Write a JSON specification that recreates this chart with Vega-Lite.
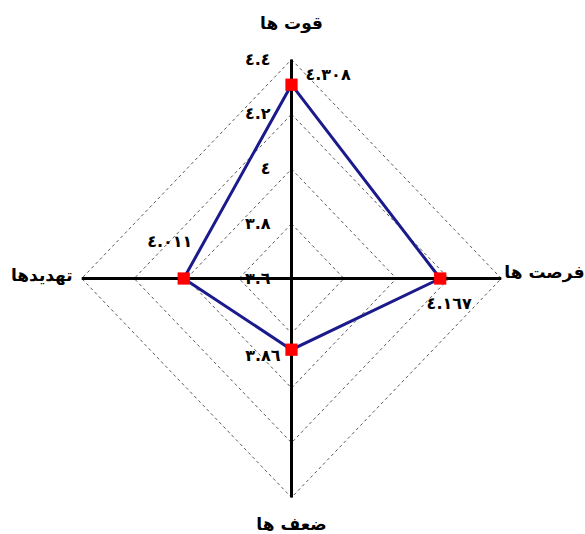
{
  "$schema": "https://vega.github.io/schema/vega-lite/v6.json",
  "width": 585,
  "height": 534,
  "autosize": {"type": "fit", "contains": "padding"},
  "padding": 0,
  "background": "white",
  "config": {"view": {"stroke": null}, "text": {"font": "DejaVu Sans"}},
  "data": {
    "values": [
      {"kind": "series", "axis": "top", "value": 4.308, "ord": 0, "label": "٤.٣٠٨"},
      {"kind": "series", "axis": "right", "value": 4.167, "ord": 1, "label": "٤.١٦٧"},
      {"kind": "series", "axis": "bottom", "value": 3.86, "ord": 2, "label": "٣.٨٦"},
      {"kind": "series", "axis": "left", "value": 4.011, "ord": 3, "label": "٤.٠١١"},
      {"kind": "ring", "level": "3.8", "axis": "top", "value": 3.8, "ord": 0},
      {"kind": "ring", "level": "3.8", "axis": "right", "value": 3.8, "ord": 1},
      {"kind": "ring", "level": "3.8", "axis": "bottom", "value": 3.8, "ord": 2},
      {"kind": "ring", "level": "3.8", "axis": "left", "value": 3.8, "ord": 3},
      {"kind": "ring", "level": "4.0", "axis": "top", "value": 4.0, "ord": 0},
      {"kind": "ring", "level": "4.0", "axis": "right", "value": 4.0, "ord": 1},
      {"kind": "ring", "level": "4.0", "axis": "bottom", "value": 4.0, "ord": 2},
      {"kind": "ring", "level": "4.0", "axis": "left", "value": 4.0, "ord": 3},
      {"kind": "ring", "level": "4.2", "axis": "top", "value": 4.2, "ord": 0},
      {"kind": "ring", "level": "4.2", "axis": "right", "value": 4.2, "ord": 1},
      {"kind": "ring", "level": "4.2", "axis": "bottom", "value": 4.2, "ord": 2},
      {"kind": "ring", "level": "4.2", "axis": "left", "value": 4.2, "ord": 3},
      {"kind": "ring", "level": "4.4", "axis": "top", "value": 4.4, "ord": 0},
      {"kind": "ring", "level": "4.4", "axis": "right", "value": 4.4, "ord": 1},
      {"kind": "ring", "level": "4.4", "axis": "bottom", "value": 4.4, "ord": 2},
      {"kind": "ring", "level": "4.4", "axis": "left", "value": 4.4, "ord": 3},
      {"kind": "spoke", "group": "v", "axis": "top", "value": 4.4, "ord": 0},
      {"kind": "spoke", "group": "v", "axis": "bottom", "value": 4.4, "ord": 1},
      {"kind": "spoke", "group": "h", "axis": "left", "value": 4.4, "ord": 0},
      {"kind": "spoke", "group": "h", "axis": "right", "value": 4.4, "ord": 1},
      {"kind": "tick", "axis": "top", "value": 4.4, "label": "٤.٤"},
      {"kind": "tick", "axis": "top", "value": 4.2, "label": "٤.٢"},
      {"kind": "tick", "axis": "top", "value": 4.0, "label": "٤"},
      {"kind": "tick", "axis": "top", "value": 3.8, "label": "٣.٨"},
      {"kind": "tick", "axis": "top", "value": 3.6, "label": "٣.٦"},
      {"kind": "title", "axis": "top", "value": 4.4, "label": "قوت ها"},
      {"kind": "title", "axis": "right", "value": 4.4, "label": "فرصت ها"},
      {"kind": "title", "axis": "bottom", "value": 4.4, "label": "ضعف ها"},
      {"kind": "title", "axis": "left", "value": 4.4, "label": "تهدیدها"}
    ]
  },
  "transform": [
    {"calculate": "datum.value - 3.6", "as": "r"},
    {"calculate": "datum.axis == 'right' ? datum.r : (datum.axis == 'left' ? -datum.r : 0)", "as": "px"},
    {"calculate": "datum.axis == 'top' ? datum.r : (datum.axis == 'bottom' ? -datum.r : 0)", "as": "py"}
  ],
  "encoding": {
    "x": {"field": "px", "type": "quantitative", "scale": {"domain": [-1.1116, 1.1116], "nice": false, "zero": false}, "axis": null},
    "y": {"field": "py", "type": "quantitative", "scale": {"domain": [-0.9333, 1.0174], "nice": false, "zero": false}, "axis": null}
  },
  "layer": [
    {
      "transform": [{"filter": "datum.kind == 'ring'"}],
      "mark": {"type": "line", "interpolate": "linear-closed", "stroke": "#444444", "strokeWidth": 0.9, "strokeDash": [3, 3]},
      "encoding": {"detail": {"field": "level"}, "order": {"field": "ord", "type": "quantitative"}}
    },
    {
      "transform": [{"filter": "datum.kind == 'spoke'"}],
      "mark": {"type": "line", "stroke": "black", "strokeWidth": 3},
      "encoding": {"detail": {"field": "group"}, "order": {"field": "ord", "type": "quantitative"}}
    },
    {
      "transform": [{"filter": "datum.kind == 'series'"}],
      "mark": {"type": "line", "interpolate": "linear-closed", "stroke": "#1a1a8c", "strokeWidth": 3},
      "encoding": {"order": {"field": "ord", "type": "quantitative"}}
    },
    {
      "transform": [{"filter": "datum.kind == 'series'"}],
      "mark": {"type": "point", "shape": "square", "filled": true, "color": "#ff0000", "size": 150, "opacity": 1}
    },
    {
      "transform": [{"filter": "datum.kind == 'tick'"}],
      "mark": {"type": "text", "align": "right", "baseline": "middle", "dx": -21, "fontSize": 16, "fontWeight": "bold", "color": "black"},
      "encoding": {"text": {"field": "label"}}
    },
    {
      "transform": [{"filter": "datum.kind == 'series' && datum.axis == 'top'"}],
      "mark": {"type": "text", "align": "left", "baseline": "middle", "dx": 14, "dy": -10, "fontSize": 16, "fontWeight": "bold", "color": "black"},
      "encoding": {"text": {"field": "label"}}
    },
    {
      "transform": [{"filter": "datum.kind == 'series' && datum.axis == 'right'"}],
      "mark": {"type": "text", "align": "center", "baseline": "middle", "dx": 9, "dy": 25, "fontSize": 16, "fontWeight": "bold", "color": "black"},
      "encoding": {"text": {"field": "label"}}
    },
    {
      "transform": [{"filter": "datum.kind == 'series' && datum.axis == 'bottom'"}],
      "mark": {"type": "text", "align": "right", "baseline": "middle", "dx": -11, "dy": 6, "fontSize": 16, "fontWeight": "bold", "color": "black"},
      "encoding": {"text": {"field": "label"}}
    },
    {
      "transform": [{"filter": "datum.kind == 'series' && datum.axis == 'left'"}],
      "mark": {"type": "text", "align": "center", "baseline": "middle", "dx": -14, "dy": -37, "fontSize": 16, "fontWeight": "bold", "color": "black"},
      "encoding": {"text": {"field": "label"}}
    },
    {
      "transform": [{"filter": "datum.kind == 'title' && datum.axis == 'top'"}],
      "mark": {"type": "text", "align": "center", "baseline": "middle", "dy": -36, "fontSize": 17, "fontWeight": "bold", "color": "black"},
      "encoding": {"text": {"field": "label"}}
    },
    {
      "transform": [{"filter": "datum.kind == 'title' && datum.axis == 'right'"}],
      "mark": {"type": "text", "align": "left", "baseline": "middle", "dx": 3, "dy": -6, "fontSize": 17, "fontWeight": "bold", "color": "black"},
      "encoding": {"text": {"field": "label"}}
    },
    {
      "transform": [{"filter": "datum.kind == 'title' && datum.axis == 'bottom'"}],
      "mark": {"type": "text", "align": "center", "baseline": "middle", "dy": 27, "fontSize": 17, "fontWeight": "bold", "color": "black"},
      "encoding": {"text": {"field": "label"}}
    },
    {
      "transform": [{"filter": "datum.kind == 'title' && datum.axis == 'left'"}],
      "mark": {"type": "text", "align": "right", "baseline": "middle", "dx": -9, "dy": -3, "fontSize": 17, "fontWeight": "bold", "color": "black"},
      "encoding": {"text": {"field": "label"}}
    }
  ]
}
